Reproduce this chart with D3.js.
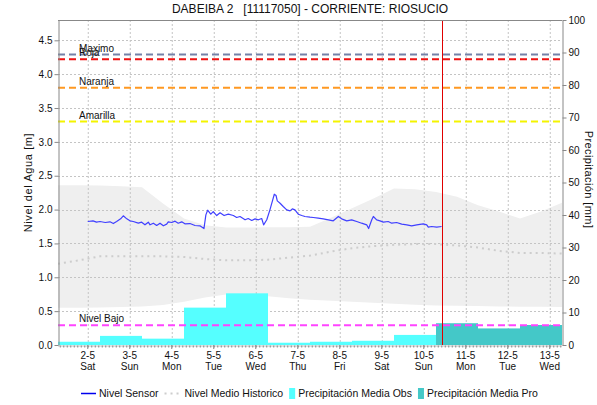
<!DOCTYPE html>
<html>
<head>
<meta charset="utf-8">
<script src="https://cdn.jsdelivr.net/npm/d3@7"></script>
<style>
  body { margin: 0; background: #fff; }
  text { font-family: "Liberation Sans", Arial, sans-serif; fill: #111; }
</style>
</head>
<body>
<svg id="chart" width="597" height="405"></svg>
<script>
// ---- data ----
const title = "DABEIBA 2   [11117050] - CORRIENTE: RIOSUCIO";

// sensor level [m], hours after 2020-05-02 00:00
const sensorStart = "2020-05-02T00:00";
const sensorHours = [0, 3, 5, 7, 10, 12.7, 14.6, 16.5, 18.8, 20.3, 22.3, 24.1, 26, 28.9, 30.8, 32.7, 34.6, 35.6, 37.5, 39.4,
  41.3, 43.2, 45.1, 46, 48, 49.9, 51.7, 53.7, 55.5, 58.4, 61.3, 64.1, 66.4, 67.5, 68.5, 70.3, 71.7, 73.7, 75.6, 77.9,
  80.3, 83.2, 85.1, 87, 89.9, 91.7, 93.7, 95.6, 97.5, 99.4, 100.5, 102.3, 104.1, 105.7, 106.6, 107.6, 108.3, 109.9, 111.7, 113.7,
  115.6, 116.9, 118.4, 120.3, 122.3, 124.1, 127, 128.9, 131.7, 134.6, 137.5, 140.3, 143.2, 145.1, 148, 150.8, 153.7, 156.5, 159.4, 160.5,
  162.3, 163.2, 165.1, 167, 168.9, 171.7, 173.7, 176.5, 179.4, 182.3, 185.1, 188, 191.7, 193.7, 194.6, 196.5, 199.4, 202.2];
const sensorLevel = [1.824, 1.834, 1.814, 1.824, 1.809, 1.819, 1.794, 1.824, 1.863, 1.908, 1.863, 1.834, 1.824, 1.799, 1.814, 1.775, 1.814, 1.775, 1.799, 1.765,
  1.799, 1.76, 1.785, 1.819, 1.809, 1.829, 1.799, 1.819, 1.79, 1.794, 1.765, 1.76, 1.72, 1.922, 1.991, 1.932, 1.971, 1.912, 1.952, 1.912,
  1.932, 1.912, 1.883, 1.898, 1.849, 1.868, 1.839, 1.863, 1.849, 1.868, 1.775, 1.85, 1.996, 2.144, 2.227, 2.208, 2.129, 2.094, 2.045, 1.996,
  1.981, 2.011, 1.996, 1.932, 1.912, 1.898, 1.888, 1.883, 1.873, 1.863, 1.849, 1.834, 1.898, 1.863, 1.834, 1.849, 1.824, 1.799, 1.775, 1.72,
  1.849, 1.898, 1.849, 1.834, 1.814, 1.824, 1.799, 1.809, 1.785, 1.775, 1.76, 1.775, 1.79, 1.775, 1.74, 1.75, 1.74, 1.75];

// historical band and mean [m], hours after 2020-05-01 07:00
const histStart = "2020-05-01T07:00";
const histHours = [0, 12, 24, 36, 48, 60, 72, 84, 96, 108, 120, 132, 144, 156, 168, 180, 192, 204, 216, 228, 240, 252, 264, 276, 288];
const histUpper = [2.36, 2.36, 2.355, 2.345, 2.33, 2.09, 1.87, 1.77, 1.735, 1.735, 1.74, 1.74, 1.745, 1.88, 2.02, 2.16, 2.31, 2.3, 2.26, 2.19, 2.065, 1.97, 1.87, 1.97, 2.1];
const histLower = [0.55, 0.55, 0.555, 0.56, 0.57, 0.59, 0.64, 0.7, 0.745, 0.75, 0.72, 0.69, 0.67, 0.655, 0.64, 0.625, 0.61, 0.595, 0.585, 0.58, 0.575, 0.57, 0.565, 0.565, 0.56];
const histMean = [1.2, 1.25, 1.31, 1.31, 1.31, 1.31, 1.3, 1.27, 1.25, 1.25, 1.26, 1.29, 1.32, 1.38, 1.43, 1.46, 1.48, 1.49, 1.49, 1.47, 1.44, 1.39, 1.36, 1.36, 1.35];

// daily precipitation [mm], days starting 2020-05-01 07:00
const rainStart = "2020-05-01T07:00";
const rainObs = [1.0, 2.8, 1.95, 11.5, 15.9, 0.7, 1.0, 1.3, 3.1];
const rainPro = [6.7, 5.1, 6.15];

const thresholdNames = ["Maximo", "Roja", "Naranja", "Amarilla", "Nivel Bajo"];
const thresholdValues = [4.29, 4.22, 3.8, 3.3, 0.29];

const nowTime = "2020-05-10T10:15";
const domainStart = "2020-05-01T07:00";
const domainEnd = "2020-05-13T07:00";
const levelTicks = [0, 0.5, 1, 1.5, 2, 2.5, 3, 3.5, 4, 4.5];
const rainTicks = [0, 10, 20, 30, 40, 50, 60, 70, 80, 90, 100];

// ---- chart ----
const thresholdColor = { "Maximo": "#7481a8", "Roja": "#ee1111", "Naranja": "#ff9922", "Amarilla": "#f4f400", "Nivel Bajo": "#ff44ff" };
const parse = d3.timeParse("%Y-%m-%dT%H:%M");
const margin = { top: 20, right: 35, bottom: 60, left: 58 };
const width = 597, height = 405;

const svg = d3.select("#chart");

const x = d3.scaleTime()
  .domain([parse(domainStart), parse(domainEnd)])
  .range([margin.left, width - margin.right]);
const y = d3.scaleLinear().domain([0, 4.8]).range([height - margin.bottom, margin.top]);
const yR = d3.scaleLinear().domain([0, 100]).range([height - margin.bottom, margin.top]);

const sensor = sensorHours.map((h, i) => ({ t: d3.timeMinute.offset(parse(sensorStart), Math.round(h * 60)), v: sensorLevel[i] }));
const hist = histHours.map((h, i) => ({ t: d3.timeHour.offset(parse(histStart), h), hi: histUpper[i], lo: histLower[i], m: histMean[i] }));
const rain = rainObs.map((v, i) => ({ t: d3.timeDay.offset(parse(rainStart), i), v, pro: false }))
  .concat(rainPro.map((v, i) => ({ t: d3.timeDay.offset(parse(rainStart), rainObs.length + i), v, pro: true })));

svg.append("clipPath").attr("id", "plot")
  .append("rect")
  .attr("x", margin.left).attr("y", margin.top)
  .attr("width", width - margin.left - margin.right)
  .attr("height", height - margin.top - margin.bottom);

const plot = svg.append("g").attr("clip-path", "url(#plot)");

// historical band
plot.append("path")
  .datum(hist)
  .attr("fill", "#efefef")
  .attr("d", d3.area().x(d => x(d.t)).y0(d => y(d.lo)).y1(d => y(d.hi)));

// grid
const days = d3.timeDay.range(d3.timeDay.ceil(x.domain()[0]), x.domain()[1]);
plot.append("g").selectAll("line").data(days).join("line")
  .attr("x1", d => x(d) + 0.5).attr("x2", d => x(d) + 0.5)
  .attr("y1", margin.top).attr("y2", height - margin.bottom)
  .attr("stroke", "#c4c4c4").attr("stroke-dasharray", "2,2");
plot.append("g").selectAll("line").data(levelTicks.slice(1)).join("line")
  .attr("x1", margin.left).attr("x2", width - margin.right)
  .attr("y1", d => Math.round(y(d)) + 0.5).attr("y2", d => Math.round(y(d)) + 0.5)
  .attr("stroke", "#c4c4c4").attr("stroke-dasharray", "2,2");

// historical mean
plot.append("path")
  .datum(hist)
  .attr("fill", "none")
  .attr("stroke", "#cdcdcd")
  .attr("stroke-width", 2)
  .attr("stroke-dasharray", "2,4")
  .attr("d", d3.line().x(d => x(d.t)).y(d => y(d.m)));

// precipitation bars
plot.append("g").selectAll("rect").data(rain).join("rect")
  .attr("x", d => x(d.t))
  .attr("width", d => x(d3.timeDay.offset(d.t, 1)) - x(d.t))
  .attr("y", d => yR(d.v))
  .attr("height", d => yR(0) - yR(d.v))
  .attr("fill", d => d.pro ? "#44c8c8" : "#55ffff");

// thresholds
thresholdNames.forEach((name, i) => {
  plot.append("line")
    .attr("x1", margin.left).attr("x2", width - margin.right)
    .attr("y1", y(thresholdValues[i])).attr("y2", y(thresholdValues[i]))
    .attr("stroke", thresholdColor[name])
    .attr("stroke-width", 2)
    .attr("stroke-dasharray", "7,4");
  svg.append("text")
    .attr("x", 79).attr("y", y(thresholdValues[i]) - 3)
    .attr("font-size", 10)
    .text(name);
});

// sensor line
plot.append("path")
  .datum(sensor)
  .attr("fill", "none")
  .attr("stroke", "#4040ff")
  .attr("stroke-width", 1.2)
  .attr("stroke-linejoin", "round")
  .attr("d", d3.line().x(d => x(d.t)).y(d => y(d.v)));

// current time marker
svg.append("line")
  .attr("x1", Math.round(x(parse(nowTime))) + 0.5).attr("x2", Math.round(x(parse(nowTime))) + 0.5)
  .attr("y1", margin.top).attr("y2", height - margin.bottom)
  .attr("stroke", "#e00000").attr("stroke-width", 1);

// frame
svg.append("line")
  .attr("x1", margin.left).attr("x2", width - margin.right)
  .attr("y1", margin.top + 0.5).attr("y2", margin.top + 0.5)
  .attr("stroke", "#888");

// axes
const styleAxis = g => {
  g.selectAll(".domain").attr("stroke", "#888");
  g.selectAll(".tick line").attr("stroke", "#888");
  g.selectAll(".tick text").attr("font-size", 10).attr("fill", "#111")
    .attr("font-family", "'Liberation Sans', Arial, sans-serif");
};

svg.append("g")
  .attr("transform", `translate(${margin.left + 0.5},0)`)
  .call(d3.axisLeft(y).tickValues(levelTicks).tickFormat(d3.format(".1f")).tickSize(4).tickPadding(2).tickSizeOuter(0))
  .call(styleAxis);

svg.append("g")
  .attr("transform", `translate(${width - margin.right + 0.5},0)`)
  .call(d3.axisRight(yR).tickValues(rainTicks).tickSize(4).tickPadding(2).tickSizeOuter(0))
  .call(styleAxis);

const xAxis = svg.append("g")
  .attr("transform", `translate(0,${height - margin.bottom + 0.5})`)
  .call(d3.axisBottom(x).ticks(d3.timeHour.every(2)).tickFormat("").tickSize(2).tickSizeOuter(0))
  .call(styleAxis);
xAxis.select(".domain").attr("stroke-dasharray", "1,1");

const dayLabels = svg.append("g").selectAll("g").data(days).join("g")
  .attr("transform", d => `translate(${x(d)},0)`);
dayLabels.append("line")
  .attr("y1", height - margin.bottom).attr("y2", height - margin.bottom + 4)
  .attr("stroke", "#888");
dayLabels.append("text")
  .attr("y", 359).attr("text-anchor", "middle").attr("font-size", 10)
  .text(d3.timeFormat("%-d-%-m"));
dayLabels.append("text")
  .attr("y", 370).attr("text-anchor", "middle").attr("font-size", 10)
  .text(d3.timeFormat("%a"));

// axis titles
svg.append("text")
  .attr("transform", `translate(32,${(margin.top + height - margin.bottom) / 2}) rotate(-90)`)
  .attr("text-anchor", "middle").attr("font-size", 11).attr("letter-spacing", 0.6)
  .text("Nivel del Agua [m]");
svg.append("text")
  .attr("transform", `translate(585,${(margin.top + height - margin.bottom) / 2 - 3}) rotate(90)`)
  .attr("text-anchor", "middle").attr("font-size", 11).attr("letter-spacing", 0.4)
  .text("Precipitación [mm]");

// title
svg.append("text")
  .attr("x", (margin.left + width - margin.right) / 2).attr("y", 13)
  .attr("text-anchor", "middle").attr("font-size", 12)
  .style("white-space", "pre")
  .text(title);

// legend
const legend = svg.append("g").attr("transform", "translate(0,393)");
const legendItems = [
  { label: "Nivel Sensor", kind: "line" },
  { label: "Nivel Medio Historico", kind: "dots" },
  { label: "Precipitación Media Obs", kind: "obs" },
  { label: "Precipitación Media Pro", kind: "pro" }
];
let lx = 81;
legendItems.forEach(item => {
  let w;
  if (item.kind === "line") {
    legend.append("line").attr("x1", lx).attr("x2", lx + 15).attr("y1", 0.5).attr("y2", 0.5)
      .attr("stroke", "#0000ee").attr("stroke-width", 1.5);
    w = 18;
  } else if (item.kind === "dots") {
    legend.append("line").attr("x1", lx).attr("x2", lx + 15).attr("y1", 0.5).attr("y2", 0.5)
      .attr("stroke", "#cdcdcd").attr("stroke-width", 2).attr("stroke-dasharray", "2,4");
    w = 20;
  } else {
    legend.append("rect").attr("x", lx).attr("y", -5).attr("width", 6).attr("height", 11)
      .attr("fill", item.kind === "obs" ? "#55ffff" : "#44c8c8");
    w = 9;
  }
  const t = legend.append("text").attr("x", lx + w).attr("y", 4).attr("font-size", 10.5).text(item.label);
  lx += w + t.node().getComputedTextLength() + 6;
});
</script>
</body>
</html>
